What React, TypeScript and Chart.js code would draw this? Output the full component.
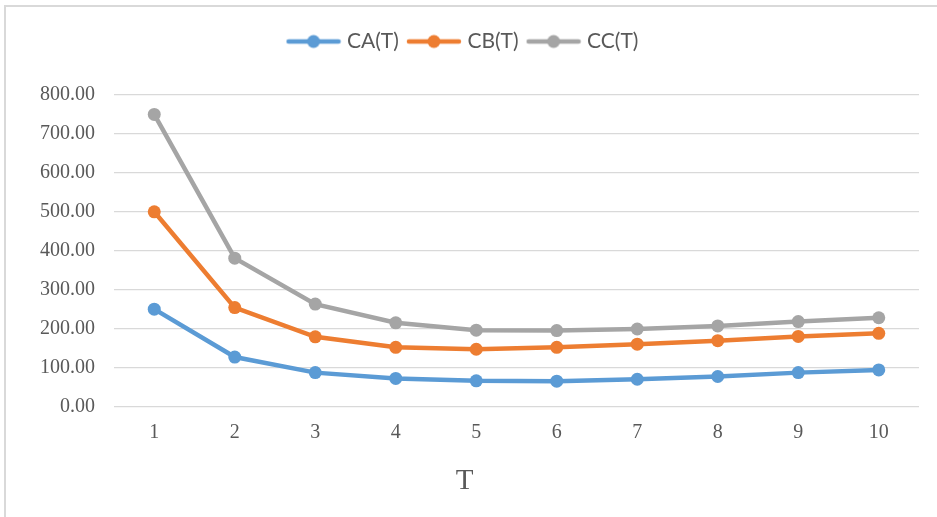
import React, { useEffect, useRef } from "react";
import { Chart, registerables } from "chart.js";

Chart.register(...registerables);

const categories = ["1", "2", "3", "4", "5", "6", "7", "8", "9", "10"];
const seriesNames = ["CA(T)", "CB(T)", "CC(T)"];
const caValues = [250, 127, 87, 72, 66, 65, 70, 77, 87, 94];
const cbValues = [500, 254, 179, 152, 147, 152, 160, 169, 180, 188];
const ccValues = [750, 381, 263, 215, 196, 195, 199, 207, 218, 228];
const yTicks = [0, 100, 200, 300, 400, 500, 600, 700, 800];
const xTitle = "T";

const colors = ["#5B9BD5", "#ED7D31", "#A5A5A5"];
const serif = "'Liberation Serif', 'Times New Roman', serif";
const sans = "Lato, 'Open Sans', sans-serif";

function makeLegendIcon(color: string): HTMLCanvasElement {
  const c = document.createElement("canvas");
  c.width = 56;
  c.height = 16;
  const ctx = c.getContext("2d")!;
  ctx.strokeStyle = color;
  ctx.lineWidth = 4.5;
  ctx.lineCap = "round";
  ctx.beginPath();
  ctx.moveTo(3, 8);
  ctx.lineTo(53, 8);
  ctx.stroke();
  ctx.fillStyle = color;
  ctx.beginPath();
  ctx.arc(28, 8, 6.5, 0, Math.PI * 2);
  ctx.fill();
  return c;
}

const legendGap = {
  id: "legendGap",
  beforeInit(chart: any) {
    const legend = chart.legend;
    if (!legend) return;
    const orig = legend.fit;
    legend.fit = function () {
      orig.call(this);
      this.height += 33;
    };
  },
};

export default function App() {
  const ref = useRef<HTMLCanvasElement | null>(null);

  useEffect(() => {
    if (!ref.current) return;
    const values = [caValues, cbValues, ccValues];
    const icons = colors.map(makeLegendIcon);
    const chart = new Chart(ref.current, {
      type: "line",
      data: {
        labels: categories,
        datasets: seriesNames.map((name, i) => ({
          label: name,
          data: values[i],
          borderColor: colors[i],
          backgroundColor: colors[i],
          borderWidth: 4.5,
          pointRadius: 6.5,
          pointHoverRadius: 6.5,
          pointBorderWidth: 0,
          pointBackgroundColor: colors[i],
          tension: 0,
          fill: false,
        })),
      },
      plugins: [legendGap],
      options: {
        animation: false,
        responsive: false,
        maintainAspectRatio: false,
        devicePixelRatio: 1,
        layout: { padding: { top: 19, right: 18, bottom: 0, left: 10 } },
        plugins: {
          tooltip: { enabled: false },
          title: {
            display: true,
            position: "bottom",
            text: xTitle,
            color: "#595959",
            font: { family: serif, size: 29, weight: "normal" },
            padding: { top: 0, bottom: 18 },
          },
          legend: {
            display: true,
            position: "top",
            labels: {
              usePointStyle: true,
              pointStyleWidth: 46,
              padding: 12,
              color: "#595959",
              font: { family: sans, size: 21 },
              generateLabels: (ch: any) =>
                ch.data.datasets.map((ds: any, i: number) => ({
                  text: ds.label,
                  fillStyle: colors[i],
                  strokeStyle: colors[i],
                  lineWidth: 0,
                  pointStyle: icons[i],
                  datasetIndex: i,
                  hidden: false,
                  fontColor: "#595959",
                })),
            },
          },
        },
        scales: {
          x: {
            type: "category",
            offset: true,
            grid: { display: false, drawTicks: false },
            border: { display: false },
            ticks: {
              color: "#595959",
              font: { family: serif, size: 20 },
              padding: 14,
            },
            afterFit: (s: any) => {
              s.height = 57.7;
            },
          },
          y: {
            min: 0,
            max: 800,
            afterBuildTicks: (s: any) => {
              s.ticks = yTicks.map((v) => ({ value: v }));
            },
            grid: { color: "#D9D9D9", lineWidth: 1.3, drawTicks: false },
            border: { display: false },
            ticks: {
              color: "#595959",
              font: { family: serif, size: 20 },
              padding: 19,
              callback: (v: any) => Number(v).toFixed(2),
            },
            afterFit: (s: any) => {
              s.width = 104;
            },
          },
        },
      },
    });
    return () => chart.destroy();
  }, []);

  return (
    <div style={{ position: "absolute", left: 0, top: 0, width: 937, height: 517, overflow: "hidden", background: "#fff" }}>
      <div
        style={{
          position: "absolute",
          left: 4,
          top: 5,
          width: 1000,
          height: 600,
          border: "2px solid #D9D9D9",
          boxSizing: "border-box",
        }}
      />
      <canvas ref={ref} width={937} height={517} style={{ position: "absolute", left: 0, top: 0, width: 937, height: 517 }} />
    </div>
  );
}
